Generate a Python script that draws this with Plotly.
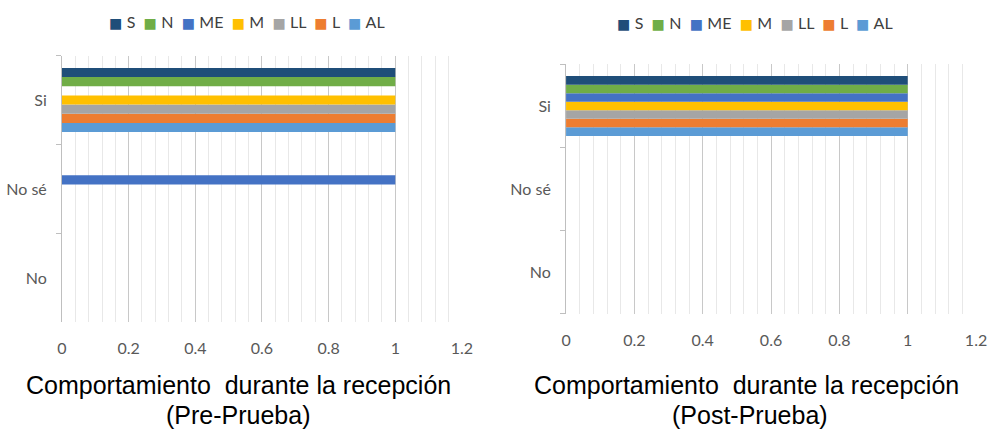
import plotly.graph_objects as go

categories = ["Si", "No sé", "No"]
series = ["S", "N", "ME", "M", "LL", "L", "AL"]
colors = ["#1F4E79", "#70AD47", "#4472C4", "#FFC000", "#A5A5A5", "#ED7D31", "#5B9BD5"]

# values per series, in category order [Si, No sé, No]
pre_values = {
    "S":  [1, 0, 0],
    "N":  [1, 0, 0],
    "ME": [0, 1, 0],
    "M":  [1, 0, 0],
    "LL": [1, 0, 0],
    "L":  [1, 0, 0],
    "AL": [1, 0, 0],
}
post_values = {
    "S":  [1, 0, 0],
    "N":  [1, 0, 0],
    "ME": [1, 0, 0],
    "M":  [1, 0, 0],
    "LL": [1, 0, 0],
    "L":  [1, 0, 0],
    "AL": [1, 0, 0],
}
x_ticks = [0, 0.2, 0.4, 0.6, 0.8, 1, 1.2]
x_tick_labels = ["0", "0.2", "0.4", "0.6", "0.8", "1", "1.2"]
title_line1 = "Comportamiento  durante la recepción"
pre_sub = "(Pre-Prueba)"
post_sub = "(Post-Prueba)"

fig = go.Figure()

label_family = "Lato, Carlito, Liberation Sans Narrow, Liberation Sans"
tick_font = dict(family=label_family, size=16, color="#595959")

for name, color in reversed(list(zip(series, colors))):
    fig.add_trace(go.Bar(
        y=categories, x=pre_values[name], name=name, orientation="h",
        marker=dict(color=color, line=dict(width=0)),
        xaxis="x", yaxis="y", showlegend=False,
    ))
for name, color in reversed(list(zip(series, colors))):
    fig.add_trace(go.Bar(
        y=categories, x=post_values[name], name=name, orientation="h",
        marker=dict(color=color, line=dict(width=0)),
        xaxis="x2", yaxis="y2", showlegend=False,
    ))

def xaxis(domain, anchor):
    return dict(
        domain=domain, anchor=anchor, range=[0, 1.2], automargin=False,
        tickvals=x_ticks, ticktext=x_tick_labels, tickfont=tick_font,
        showgrid=True, gridcolor="#c8c8c8", gridwidth=1,
        minor=dict(dtick=0.04, tick0=0, showgrid=True, gridcolor="#e8e8e8", gridwidth=1),
        zeroline=False, showline=False, ticks="", ticklabelstandoff=15,
        fixedrange=True,
    )

def yaxis(domain, anchor):
    return dict(
        domain=domain, anchor=anchor, type="category", automargin=False,
        categoryorder="array", categoryarray=list(reversed(categories)),
        tickfont=tick_font, showgrid=False, zeroline=False,
        showline=True, linecolor="#bfbfbf", linewidth=1,
        ticks="outside", tickson="boundaries", ticklen=5, tickcolor="#bfbfbf",
        ticklabelstandoff=11, fixedrange=True,
    )

def legend_text():
    parts = []
    for name, color in zip(series, colors):
        parts.append(
            f'<span style="color:{color};font-family:DejaVu Sans;font-size:14px">■ </span>{name}'
        )
    return "  ".join(parts)

legend_font = dict(family=label_family, size=16, color="#404040")
title_font = dict(family="Liberation Sans, Arial", size=25, color="#000000")

fig.update_layout(
    width=992, height=432,
    margin=dict(l=0, r=0, t=0, b=0, autoexpand=False),
    paper_bgcolor="white", plot_bgcolor="white",
    barmode="group", bargap=0.28, bargroupgap=0,
    xaxis=xaxis([0.0625, 0.4657], "y"),
    yaxis=yaxis([0.2535, 0.8715], "x"),
    xaxis2=xaxis([0.5706, 0.9839], "y2"),
    yaxis2=yaxis([0.2743, 0.8507], "x2"),
    showlegend=False,
    annotations=[
        dict(text=legend_text(), x=247 / 992, y=1 - 21 / 432, xref="paper", yref="paper",
             xanchor="center", yanchor="middle", showarrow=False, font=legend_font),
        dict(text=legend_text(), x=755 / 992, y=1 - 22 / 432, xref="paper", yref="paper",
             xanchor="center", yanchor="middle", showarrow=False, font=legend_font),
        dict(text=title_line1, x=238 / 992, y=1 - 385 / 432, xref="paper", yref="paper",
             xanchor="center", yanchor="middle", showarrow=False, font=title_font),
        dict(text=pre_sub, x=238 / 992, y=1 - 415 / 432, xref="paper", yref="paper",
             xanchor="center", yanchor="middle", showarrow=False, font=title_font),
        dict(text=title_line1, x=746 / 992, y=1 - 385 / 432, xref="paper", yref="paper",
             xanchor="center", yanchor="middle", showarrow=False, font=title_font),
        dict(text=post_sub, x=750 / 992, y=1 - 415 / 432, xref="paper", yref="paper",
             xanchor="center", yanchor="middle", showarrow=False, font=title_font),
    ],
)

fig.write_html("out.html", config={"displayModeBar": False},
               post_script="document.body.style.margin='0';")
